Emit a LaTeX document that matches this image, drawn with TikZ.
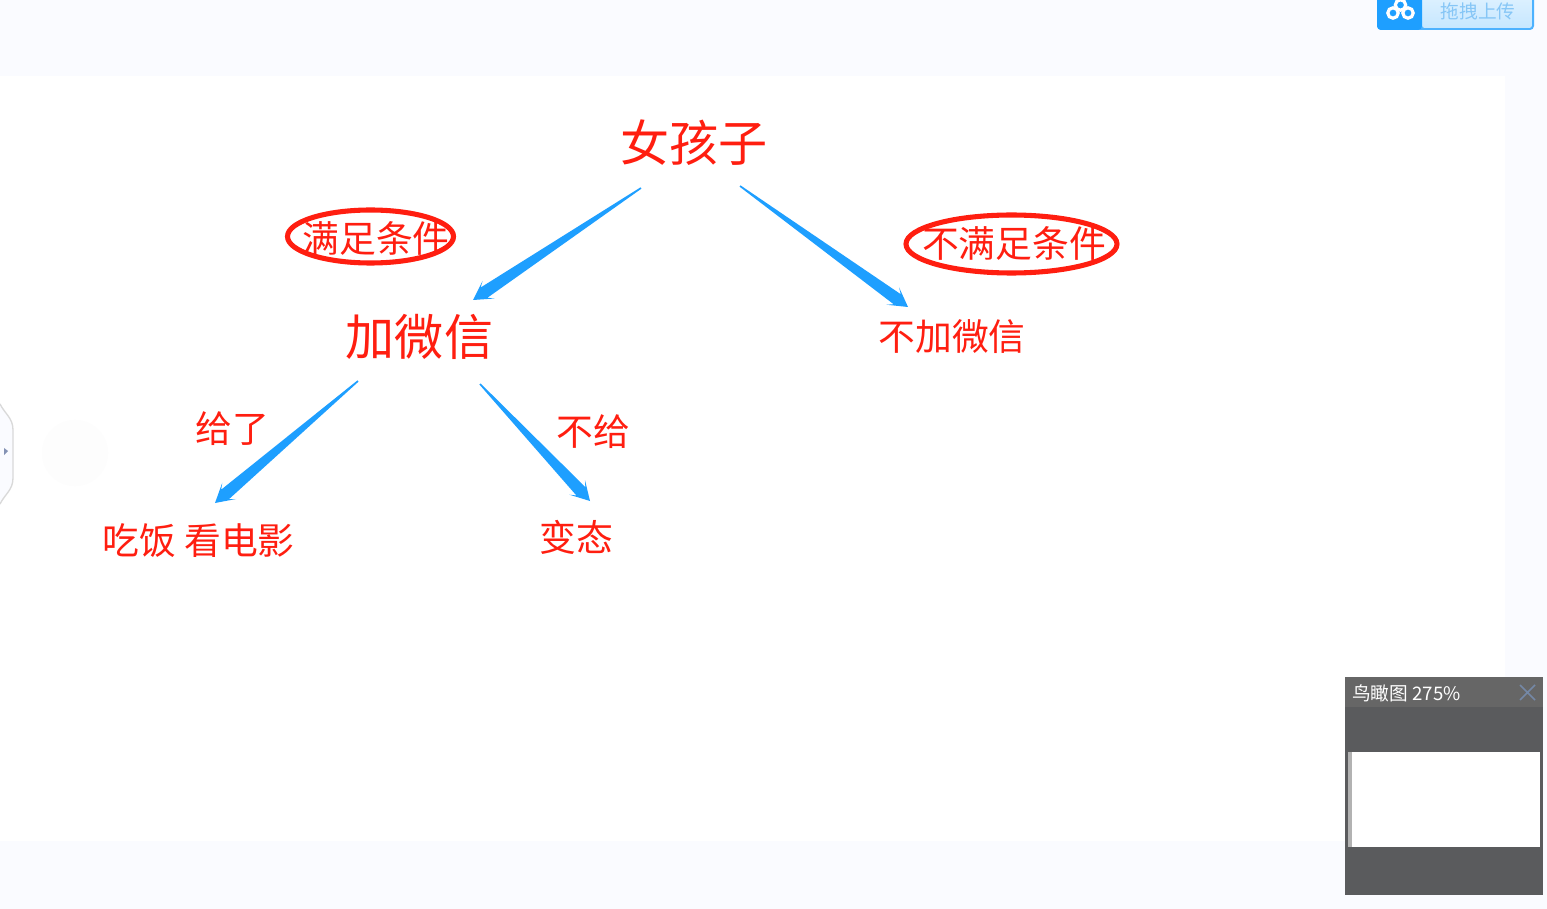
\documentclass[tikz,border=0pt]{standalone}
\usepackage{fontspec}
\setmainfont{Noto Sans CJK SC}
\usetikzlibrary{calc,shapes.geometric}
\definecolor{pagebg}{HTML}{FAFBFF}
\definecolor{inkred}{HTML}{FF1E10}
\definecolor{arrowblue}{HTML}{1E9FFF}
\definecolor{btnedge}{HTML}{4DB2FF}
\definecolor{btntop}{HTML}{E2F3FF}
\definecolor{btnbot}{HTML}{C6E7FF}
\definecolor{btntext}{HTML}{86C6F6}
\definecolor{panelhead}{HTML}{666666}
\definecolor{panelbody}{HTML}{5A5B5D}
\definecolor{closex}{HTML}{7488A6}
\definecolor{handletri}{HTML}{8492B4}
\newcommand\taper[2]{%
  \fill[arrowblue]
    ($(#1)!0.6pt!90:(#2)$)
    -- ($($(#2)!10pt!(#1)$)!4.6pt!-90:(#1)$)
    -- ($($(#2)!14pt!(#1)$)!8pt!-90:(#1)$)
    -- (#2)
    -- ($($(#2)!14pt!(#1)$)!8pt!90:(#1)$)
    -- ($($(#2)!10pt!(#1)$)!4.6pt!90:(#1)$)
    -- ($(#1)!0.6pt!-90:(#2)$)
    -- cycle;}
\tikzset{
  lbl/.style={text=inkred,inner sep=0pt,font=\fontsize{27.6pt}{27.6pt}\selectfont},
  bigLbl/.style={text=inkred,inner sep=0pt,font=\fontsize{36.8pt}{36.8pt}\selectfont},
}
\begin{document}
\begin{tikzpicture}[x=0.75pt,y=-0.75pt]
\useasboundingbox (0,0) rectangle (1547,909);
\fill[pagebg] (0,0) rectangle (1547,909);
\fill[white] (0,76) rectangle (1505,841);
% faint circle
\fill[black!0.6] (75,453) circle (33);
% left handle
\filldraw[fill=pagebg,draw=black!15,line width=1pt] (0,404) .. controls (5,414) and (13,418) .. (13,430) -- (13,478) .. controls (13,490) and (5,494) .. (0,504);
\fill[handletri] (4,448) -- (8,451) -- (4,455) -- cycle;
% upload button
\begin{scope}
\clip (0,0) rectangle (1547,909);
\fill[btnedge,rounded corners=3pt] (1377,-10) rectangle (1534,30);
\shade[top color=btntop,bottom color=btnbot,rounded corners=2pt] (1422,-10) rectangle (1532,28);
\fill[arrowblue,rounded corners=3pt] (1377,-10) -- (1377,30) -- (1422,30) -- (1422,-10) -- cycle;
\foreach \p in {(1400.5,5),(1393,13),(1408,13)} \draw[white,line width=2.4pt] \p circle (5.2);
\end{scope}
\node[text=btntext,inner sep=0pt,font=\fontsize{14pt}{14pt}\selectfont] (upl) at (1478,11) {拖拽上传};
% minimap
\fill[panelbody] (1345,707) rectangle (1543,895);
\fill[panelhead] (1345,677) rectangle (1543,707);
\fill[white] (1352,752) rectangle (1540,847);
\fill[black!30!white] (1348,752) rectangle (1352,847);
\node[text=white,anchor=west,inner sep=0pt,font=\fontsize{14pt}{14pt}\selectfont] (mini) at (1352,693) {鸟瞰图 275\%};
\draw[closex,line width=1.2pt] (1520,685) -- (1535,700) (1535,685) -- (1520,700);
% labels
\node[bigLbl] (girl) at (694,143) {女孩子};
\node[bigLbl] (wx) at (419.5,337) {加微信};
\node[lbl] (nowx) at (952,337) {不加微信};
\node[lbl] (gave) at (232,429) {给了};
\node[lbl] (nogive) at (593,432) {不给};
\node[lbl] (meal) at (198.5,541) {吃饭 看电影};
\node[lbl] (perv) at (576,537) {变态};
\node[lbl] (ok) at (376,238) {满足条件};
\node[lbl] (nok) at (1014,243) {不满足条件};
\draw[inkred,line width=3.8pt] (370.5,236.5) ellipse (83 and 26.5);
\draw[inkred,line width=3.8pt] (1011.5,244) ellipse (105.5 and 29);
% connectors
\coordinate (a1) at ($(girl)+(-53,45)$);
\coordinate (b1) at ($(wx)+(53.5,-37)$);
\coordinate (a2) at ($(girl)+(46,43)$);
\coordinate (b2) at ($(nowx)+(-44,-30)$);
\coordinate (a3) at ($(wx)+(-61.5,44)$);
\coordinate (b3) at ($(meal)+(16.5,-38)$);
\coordinate (a4) at ($(wx)+(60.5,47)$);
\coordinate (b4) at ($(perv)+(14,-36)$);
\taper{a1}{b1}
\taper{a2}{b2}
\taper{a3}{b3}
\taper{a4}{b4}
\end{tikzpicture}
\end{document}
